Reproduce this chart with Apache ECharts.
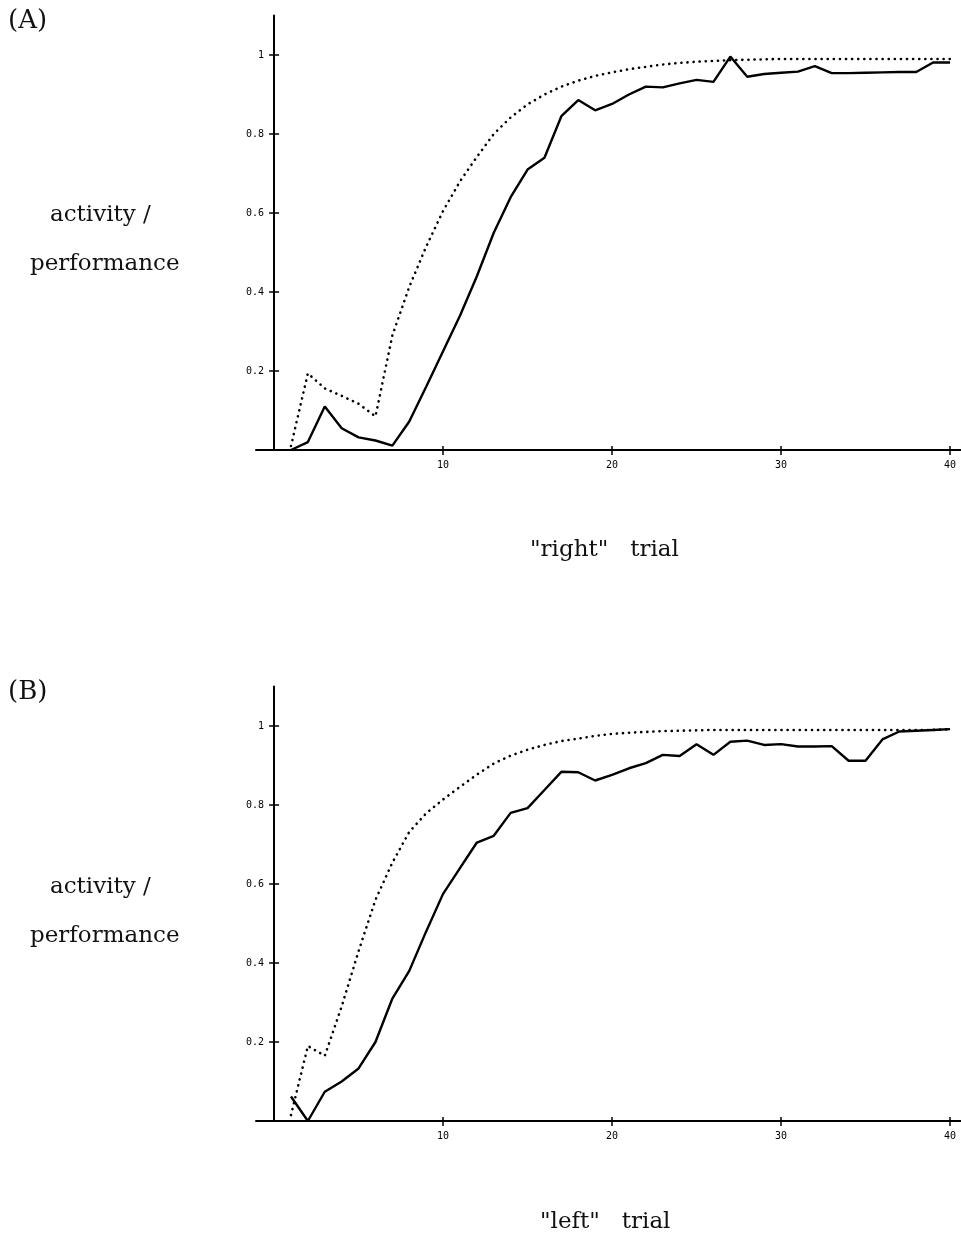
<!DOCTYPE html>
<html>
<head>
<meta charset="utf-8">
<script src="https://cdn.jsdelivr.net/npm/echarts@6/dist/echarts.min.js"></script>
<style>
  html, body { margin: 0; padding: 0; background: #fff; }
  #chart { width: 961px; height: 1236px; }
</style>
</head>
<body>
<div id="chart"></div>
<script>
// trial numbers (x)
const trials = [1, 2, 3, 4, 5, 6, 7, 8, 9, 10, 11, 12, 13, 14, 15, 16, 17, 18, 19, 20,
    21, 22, 23, 24, 25, 26, 27, 28, 29, 30, 31, 32, 33, 34, 35, 36, 37, 38, 39, 40];

// (A) "right" trials
const rightPerformance = [0.0, 0.02, 0.11, 0.055, 0.032, 0.024, 0.011, 0.072, 0.16, 0.25,
    0.34, 0.44, 0.55, 0.64, 0.71, 0.74, 0.845, 0.886, 0.86, 0.876,
    0.90, 0.92, 0.918, 0.928, 0.937, 0.932, 0.996, 0.945, 0.952, 0.955,
    0.958, 0.972, 0.954, 0.954, 0.955, 0.956, 0.957, 0.957, 0.981, 0.981];
const rightActivity = [0.01, 0.194, 0.156, 0.137, 0.117, 0.085, 0.29, 0.413, 0.515, 0.605,
    0.68, 0.742, 0.80, 0.842, 0.875, 0.90, 0.92, 0.935, 0.947, 0.956,
    0.964, 0.97, 0.976, 0.98, 0.983, 0.985, 0.987, 0.988, 0.989, 0.99,
    0.99, 0.99, 0.99, 0.99, 0.99, 0.99, 0.99, 0.99, 0.99, 0.99];

// (B) "left" trials
const leftPerformance = [0.062, 0.0, 0.074, 0.10, 0.133, 0.20, 0.31, 0.38, 0.48, 0.575,
    0.64, 0.705, 0.722, 0.78, 0.792, 0.838, 0.884, 0.883, 0.862, 0.876,
    0.893, 0.906, 0.927, 0.924, 0.954, 0.927, 0.96, 0.963, 0.952, 0.954,
    0.948, 0.948, 0.949, 0.912, 0.912, 0.966, 0.986, 0.988, 0.99, 0.992];
const leftActivity = [0.015, 0.19, 0.165, 0.29, 0.43, 0.56, 0.654, 0.732, 0.779, 0.814,
    0.846, 0.877, 0.905, 0.925, 0.94, 0.952, 0.962, 0.968, 0.975, 0.98,
    0.983, 0.985, 0.987, 0.988, 0.989, 0.99, 0.99, 0.99, 0.99, 0.99,
    0.99, 0.99, 0.99, 0.99, 0.99, 0.99, 0.99, 0.99, 0.99, 0.992];

// tick labels
const xTicks = [10, 20, 30, 40];
const yTicks = [0.2, 0.4, 0.6, 0.8, 1];

const chart = echarts.init(document.getElementById('chart'));

const pairs = ys => trials.map((t, i) => [t, ys[i]]);
const serif = 'DejaVu Serif';
const mono = 'DejaVu Sans Mono';

const grids = [
    {left: 256, top: 15.5, width: 705, height: 434.5},
    {left: 256, top: 686.5, width: 705, height: 434.5}
];

// main axes + a twin axis (ticks on the other side) per grid, so ticks cross the line
const xAxes = [];
const yAxes = [];
[0, 1].forEach(g => {
    xAxes.push({
        type: 'value', gridIndex: g, min: -1.07, max: 40.65, position: 'bottom',
        axisLine: {show: true, onZero: false, lineStyle: {color: '#000', width: 2}},
        axisTick: {show: true, customValues: xTicks, length: 5, lineStyle: {color: '#000', width: 1.5}},
        axisLabel: {show: true, customValues: xTicks, margin: 10, color: '#000', fontFamily: mono, fontSize: 10},
        splitLine: {show: false}
    });
    xAxes.push({
        type: 'value', gridIndex: g, min: -1.07, max: 40.65, position: 'bottom',
        axisLine: {show: false, onZero: false},
        axisTick: {show: true, inside: true, customValues: xTicks, length: 4, lineStyle: {color: '#000', width: 1.5}},
        axisLabel: {show: false},
        splitLine: {show: false}
    });
    yAxes.push({
        type: 'value', gridIndex: g, min: 0, max: 1.1, position: 'left',
        axisLine: {show: true, onZero: true, lineStyle: {color: '#000', width: 2}},
        axisTick: {show: true, customValues: yTicks, length: 5, lineStyle: {color: '#000', width: 1.5}},
        axisLabel: {show: true, customValues: yTicks, margin: -8, color: '#000', fontFamily: mono, fontSize: 10,
            formatter: v => String(v)},
        splitLine: {show: false}
    });
    yAxes.push({
        type: 'value', gridIndex: g, min: 0, max: 1.1, position: 'left',
        axisLine: {show: false, onZero: true},
        axisTick: {show: true, inside: true, customValues: yTicks, length: 5, lineStyle: {color: '#000', width: 1.5}},
        axisLabel: {show: false},
        splitLine: {show: false}
    });
});

const solid = {color: '#000', width: 2.4, type: 'solid'};
const dotted = {color: '#000', width: 2.6, type: [0.1, 6], cap: 'round'};

const mkSeries = (data, g, style) => ({
    type: 'line', data: pairs(data), xAxisIndex: g * 2, yAxisIndex: g * 2,
    showSymbol: false, symbol: 'none', lineStyle: style, silent: true, animation: false, z: 3
});

const txt = (text, left, top, size) => ({
    type: 'text', left: left, top: top,
    style: {text: text, fill: '#111', font: `${size}px "${serif}"`}
});

chart.setOption({
    backgroundColor: '#fff',
    animation: false,
    grid: grids,
    xAxis: xAxes,
    yAxis: yAxes,
    series: [
        mkSeries(rightActivity, 0, dotted),
        mkSeries(rightPerformance, 0, solid),
        mkSeries(leftActivity, 1, dotted),
        mkSeries(leftPerformance, 1, solid)
    ],
    graphic: [
        txt('(A)', 8, 8, 26),
        txt('activity /', 50, 204, 23),
        txt('performance', 30, 253, 23),
        txt('"right"   trial', 530, 539, 23),
        txt('(B)', 8, 679, 26),
        txt('activity /', 50, 876, 23),
        txt('performance', 30, 925, 23),
        txt('"left"   trial', 540, 1211, 23)
    ]
});
</script>
</body>
</html>
